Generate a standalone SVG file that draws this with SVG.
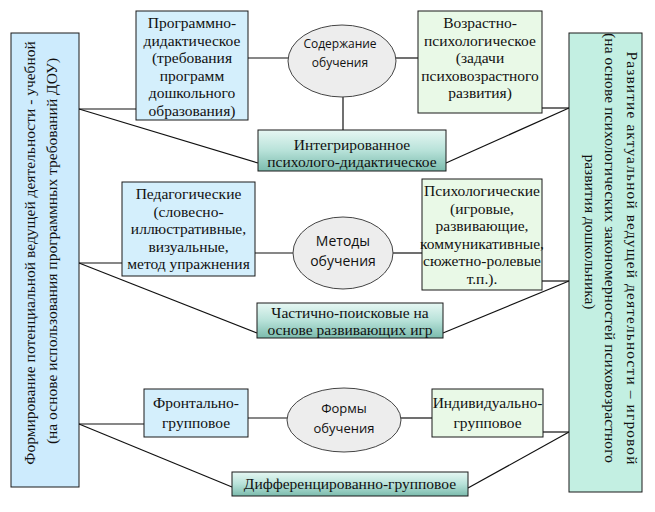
<svg xmlns="http://www.w3.org/2000/svg" width="655" height="512" viewBox="0 0 655 512">
<defs>
<linearGradient id="teal" x1="0" y1="0" x2="0" y2="1">
<stop offset="0" stop-color="#e6f7f3"/>
<stop offset="0.5" stop-color="#b8e2d9"/>
<stop offset="1" stop-color="#7bbbad"/>
</linearGradient>
<style>
.blue{fill:#d4effc;stroke:#1a1a1a;stroke-width:1}
.green{fill:#e9f9e7;stroke:#1a1a1a;stroke-width:1}
.side{fill:#c3efe2;stroke:#1a1a1a;stroke-width:1}
.grad{fill:url(#teal);stroke:#1a1a1a;stroke-width:1}
.ell{fill:#ededed;stroke:#444;stroke-width:1}
.t{font-family:"Liberation Serif","Times New Roman",serif;font-size:15.5px;fill:#111;text-anchor:middle}
.s{font-family:"Open Sans","Noto Sans",sans-serif;fill:#111;text-anchor:middle}
.c line{stroke:#111;stroke-width:1.2}
</style>
</defs>
<rect width="655" height="512" fill="#fff"/>

<g class="c" id="connectors">
<line x1="79" y1="109" x2="136" y2="109"/>
<line x1="79" y1="109" x2="258" y2="163"/>
<line x1="248" y1="58" x2="288" y2="58"/>
<line x1="396" y1="58" x2="418" y2="58"/>
<line x1="343" y1="97" x2="343" y2="130"/>
<line x1="542" y1="108" x2="569" y2="108"/>
<line x1="569" y1="108" x2="446" y2="163"/>
<line x1="79" y1="263" x2="122" y2="263"/>
<line x1="79" y1="263" x2="257" y2="333"/>
<line x1="255" y1="253" x2="293" y2="253"/>
<line x1="393" y1="253" x2="422" y2="253"/>
<line x1="542" y1="281" x2="569" y2="281"/>
<line x1="569" y1="281" x2="443" y2="333"/>
<line x1="79" y1="424" x2="144" y2="424"/>
<line x1="79" y1="424" x2="232" y2="487"/>
<line x1="248" y1="418" x2="288" y2="418"/>
<line x1="400" y1="418" x2="432" y2="418"/>
<line x1="543" y1="432" x2="569" y2="432"/>
<line x1="569" y1="432" x2="468" y2="488"/>
</g>

<g id="left">
<rect class="blue" x="11" y="33" width="68" height="454" style="fill:#cdebfd"/>
<text class="t" transform="translate(35,253) rotate(-90)">Формирование потенциальной ведущей деятельности - учебной</text>
<text class="t" transform="translate(57,251) rotate(-90)">(на основе использования программных требований ДОУ)</text>
</g>

<g id="right">
<rect class="side" x="569" y="33" width="73" height="459"/>
<text class="t" transform="translate(627,258) rotate(90)" textLength="413" lengthAdjust="spacing">Развитие актуальной ведущей деятельности – игровой</text>
<text class="t" transform="translate(605,248) rotate(90)" textLength="430" lengthAdjust="spacing">(на основе психологических закономерностей психовозрастного</text>
<text class="t" transform="translate(585,232) rotate(90)">развития дошкольника)</text>
</g>

<g id="prog">
<rect class="blue" x="136" y="11" width="112" height="109"/>
<text class="t" x="192" y="28">Программно-</text>
<text class="t" x="192" y="45.5">дидактическое</text>
<text class="t" x="192" y="63">(требования</text>
<text class="t" x="192" y="80.5">программ</text>
<text class="t" x="192" y="98">дошкольного</text>
<text class="t" x="192" y="115.5">образования)</text>
</g>

<g id="age">
<rect class="green" x="418" y="11" width="124" height="102"/>
<text class="t" x="480" y="28">Возрастно-</text>
<text class="t" x="480" y="45.5">психологическое</text>
<text class="t" x="480" y="63">(задачи</text>
<text class="t" x="480" y="80.5">психовозрастного</text>
<text class="t" x="480" y="98">развития)</text>
</g>

<g id="integrated">
<rect class="grad" x="258" y="130" width="188" height="41"/>
<text class="t" x="352" y="150">Интегрированное</text>
<text class="t" x="352" y="167">психолого-дидактическое</text>
</g>

<g id="ped">
<rect class="blue" x="122" y="182" width="133" height="94"/>
<text class="t" x="188.5" y="199">Педагогические</text>
<text class="t" x="188.5" y="216.5">(словесно-</text>
<text class="t" x="188.5" y="234">иллюстративные,</text>
<text class="t" x="188.5" y="251.5">визуальные,</text>
<text class="t" x="188.5" y="269">метод упражнения</text>
</g>

<g id="psy">
<rect class="green" x="422" y="179" width="120" height="111"/>
<text class="t" x="482" y="196">Психологические</text>
<text class="t" x="482" y="213.5">(игровые,</text>
<text class="t" x="482" y="231">развивающие,</text>
<text class="t" x="482" y="248.5">коммуникативные,</text>
<text class="t" x="482" y="266">сюжетно-ролевые</text>
<text class="t" x="482" y="283.5">т.п.).</text>
</g>

<g id="partial">
<rect class="grad" x="257" y="303" width="186" height="35"/>
<text class="t" x="350" y="318">Частично-поисковые на</text>
<text class="t" x="350" y="335">основе развивающих игр</text>
</g>

<g id="frontal">
<rect class="blue" x="144" y="389" width="104" height="48"/>
<text class="t" x="196" y="408">Фронтально-</text>
<text class="t" x="196" y="428">групповое</text>
</g>

<g id="individual">
<rect class="green" x="432" y="389" width="111" height="48"/>
<text class="t" x="487.5" y="408">Индивидуально-</text>
<text class="t" x="487.5" y="428">групповое</text>
</g>

<g id="diff">
<rect class="grad" x="232" y="472" width="236" height="24"/>
<text class="t" x="350" y="489">Дифференцированно-групповое</text>
</g>

<g id="content">
<ellipse class="ell" cx="342" cy="61" rx="54" ry="36"/>
<text class="s" x="340" y="48" font-size="12">Содержание</text>
<text class="s" x="340" y="67" font-size="12">обучения</text>
</g>

<g id="methods">
<ellipse class="ell" cx="343" cy="253" rx="50" ry="36"/>
<text class="s" x="343" y="246" font-size="14">Методы</text>
<text class="s" x="343" y="266" font-size="14">обучения</text>
</g>

<g id="forms">
<ellipse class="ell" cx="344" cy="420" rx="57" ry="32"/>
<text class="s" x="344" y="413" font-size="13">Формы</text>
<text class="s" x="344" y="433" font-size="13">обучения</text>
</g>
</svg>
